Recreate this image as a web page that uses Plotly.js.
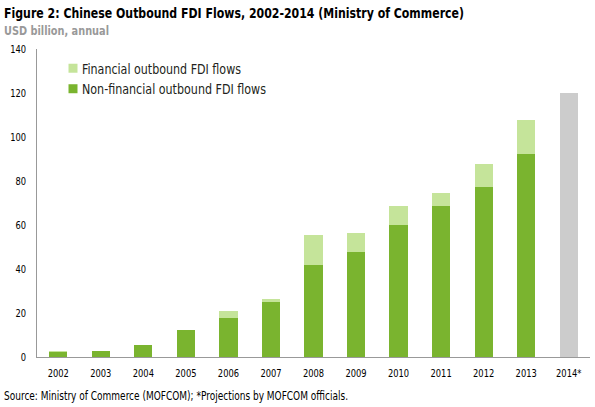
<!DOCTYPE html>
<html><head><meta charset="utf-8">
<script src="https://cdn.plot.ly/plotly-3.0.1.min.js"></script>
<style>body{margin:0;background:#fff}#c{width:595px;height:407px}</style>
</head><body><div id="c"></div>
<script>
const years = ["2002","2003","2004","2005","2006","2007","2008","2009","2010","2011","2012","2013","2014*"];
const nonFinancial = [2.5, 2.7, 5.4, 12.1, 17.6, 24.8, 41.6, 47.8, 60.2, 68.6, 77.2, 92.4, null];
const financial = [0.2, 0.2, 0.2, 0.2, 3.5, 1.7, 14.0, 8.7, 8.6, 6.1, 10.6, 15.3, null];
const projection = [null, null, null, null, null, null, null, null, null, null, null, null, 120];

const font = "'DejaVu Sans Condensed', 'Liberation Sans', Arial, sans-serif";
const W = 553, H = 308, L = 37, T = 49;
const px = x => (x - L) / W;
const py = y => 1 - (y - T) / H;

const traces = [
  {type:'bar', name:'Non-financial outbound FDI flows', x:years, y:nonFinancial,
   marker:{color:'#7AB42F'}, legendrank:2},
  {type:'bar', name:'Financial outbound FDI flows', x:years, y:financial,
   marker:{color:'#C5E49A'}, legendrank:1},
  {type:'bar', name:'Projection', x:years, y:projection, showlegend:false,
   marker:{color:'#CCCCCC'}}
];

const layout = {
  width:595, height:407,
  margin:{l:L, r:595-L-W, t:T, b:407-T-H},
  paper_bgcolor:'#fff', plot_bgcolor:'#fff',
  barmode:'stack', bargap:0.57,
  font:{family:font, size:11, color:'#000'},
  showlegend:true,
  legend:{x:px(40), y:py(56), xanchor:'left', yanchor:'top', traceorder:'normal',
          font:{family:font, size:13.5, color:'#231f20'}, bgcolor:'rgba(0,0,0,0)',
          itemwidth:30, tracegroupgap:0},
  xaxis:{type:'category', range:[-0.5,12.5], showline:true, linecolor:'#999', linewidth:1,
         ticks:'', showgrid:false, zeroline:false, tickfont:{family:font,size:11},
         ticklabelstandoff:6},
  yaxis:{range:[0,140], dtick:20, showline:true, linecolor:'#999', linewidth:1,
         ticks:'', showgrid:false, zeroline:false, tickfont:{family:font,size:11},
         ticklabelstandoff:11},
  annotations:[
    {xref:'paper', yref:'paper', x:px(4), y:py(13), xanchor:'left', yanchor:'middle', showarrow:false,
     text:'Figure 2: Chinese Outbound FDI Flows, 2002-2014 (Ministry of Commerce)',
     font:{family:font, size:14.5, color:'#000', weight:'bold'}},
    {xref:'paper', yref:'paper', x:px(4), y:py(30.5), xanchor:'left', yanchor:'middle', showarrow:false,
     text:'USD billion, annual', font:{family:font, size:12.5, color:'#999', weight:'bold'}},
    {xref:'paper', yref:'paper', x:px(4), y:py(396), xanchor:'left', yanchor:'middle', showarrow:false,
     text:'Source: Ministry of Commerce (MOFCOM); *Projections by MOFCOM officials.',
     font:{family:font, size:11.5, color:'#000'}}
  ]
};

function squeeze(el, width, anchor, pos) {
  el.setAttribute('textLength', width);
  el.setAttribute('lengthAdjust', 'spacingAndGlyphs');
  const r = el.getBoundingClientRect();
  let cur = anchor === 'start' ? r.left : anchor === 'end' ? r.right : (r.left + r.right) / 2;
  const x0 = parseFloat(el.getAttribute('x') || '0');
  el.setAttribute('x', x0 + (pos - cur));
}

Plotly.newPlot('c', traces, layout, {displayModeBar:false, staticPlot:true}).then(gd => {
  const ann = gd.querySelectorAll('.annotation-text');
  const annTargets = [[4, 460], [4, 105], [4, 344]];
  ann.forEach((el, i) => squeeze(el, annTargets[i][1], 'start', annTargets[i][0]));

  gd.querySelectorAll('.xtick text').forEach(el => {
    const r = el.getBoundingClientRect();
    squeeze(el, r.width * 0.84, 'middle', (r.left + r.right) / 2);
  });
  gd.querySelectorAll('.ytick text').forEach(el => {
    const r = el.getBoundingClientRect();
    squeeze(el, r.width * 0.84, 'end', 26);
  });

  const legTargets = {'Financial outbound FDI flows': [159, 68.5], 'Non-financial outbound FDI flows': [184, 89]};
  gd.querySelectorAll('.legend .traces').forEach(g => {
    const t = g.querySelector('.legendtext');
    const tgt = legTargets[t.textContent];
    if (!tgt) return;
    const r = t.getBoundingClientRect();
    const dy = tgt[1] - (r.top + r.height / 2);
    g.setAttribute('transform', (g.getAttribute('transform') || '') + ' translate(0,' + dy + ')');
    squeeze(t, tgt[0], 'start', 82);
    g.querySelectorAll('.legendpoints path').forEach(p => {
      p.setAttribute('d', 'M4.5,4.5H-4.5V-4.5H4.5Z');
      const pr = p.getBoundingClientRect();
      const dx = 73 - (pr.left + pr.right) / 2;
      p.setAttribute('transform', (p.getAttribute('transform') || '') + ' translate(' + dx + ',0)');
    });
  });
});
</script></body></html>
